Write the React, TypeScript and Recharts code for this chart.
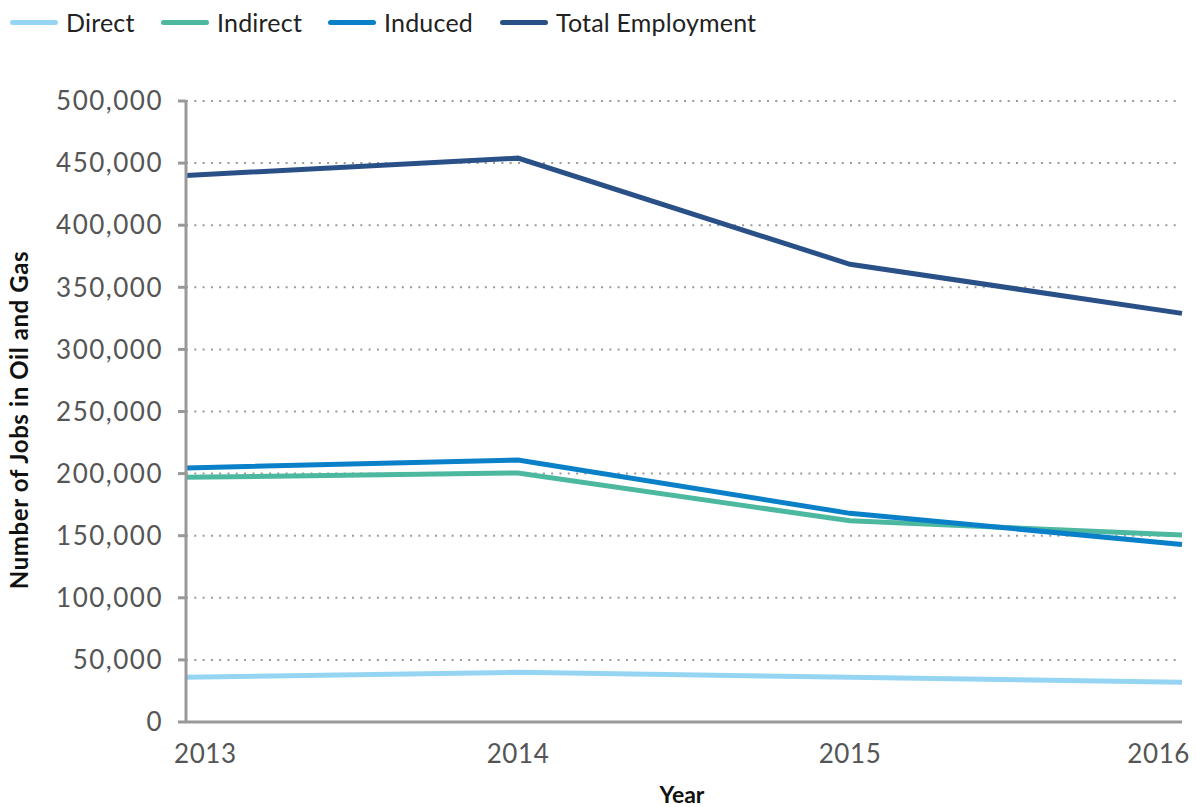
import React from 'react';
import { LineChart, Line, XAxis, YAxis, CartesianGrid, Legend, Label } from 'recharts';

const years = ['2013', '2014', '2015', '2016'];
const direct = [36000, 40000, 36000, 32000];
const indirect = [197000, 200500, 162000, 150500];
const induced = [204500, 211000, 168000, 143000];
const total = [440000, 454000, 368500, 329000];
const yTicks = [0, 50000, 100000, 150000, 200000, 250000, 300000, 350000, 400000, 450000, 500000];

const series = [
  { key: 'direct', name: 'Direct', color: '#95d5f3' },
  { key: 'indirect', name: 'Indirect', color: '#4db8a0' },
  { key: 'induced', name: 'Induced', color: '#0a80c8' },
  { key: 'total', name: 'Total Employment', color: '#2a5088' },
];

const data = years.map((y, i) => ({
  year: y,
  direct: direct[i],
  indirect: indirect[i],
  induced: induced[i],
  total: total[i],
}));

const FONT = 'Lato, "Open Sans", sans-serif';

const legendPositions = [10, 161, 328, 500];

const LegendContent = () => (
  <div style={{ position: 'relative', height: 44, width: 900 }}>
    {series.map((s, i) => (
      <div
        key={s.key}
        style={{
          position: 'absolute',
          left: legendPositions[i],
          top: 0,
          display: 'flex',
          alignItems: 'center',
          height: 44,
        }}
      >
        <div style={{ width: 48, height: 5, borderRadius: 3, background: s.color }} />
        <span style={{ marginLeft: 8, fontSize: 25, color: '#222', fontFamily: FONT, letterSpacing: 0.2 }}>{s.name}</span>
      </div>
    ))}
  </div>
);

const fmt = (v: number) => v.toLocaleString('en-US');

const XTick = (props: any) => {
  const { x, y, payload, index } = props;
  const last = years.length - 1;
  let anchor: 'start' | 'middle' | 'end' = 'middle';
  let xx = x;
  if (index === 0) {
    anchor = 'start';
    xx = x - 12;
  } else if (index === last) {
    anchor = 'end';
    xx = x + 8;
  }
  return (
    <text
      x={xx}
      y={y + 23}
      textAnchor={anchor}
      dominantBaseline="central"
      fill="#555"
      fontSize={26}
      fontFamily={FONT}
      letterSpacing={0.6}
    >
      {payload.value}
    </text>
  );
};

const YLabel = () => (
  <text
    x={18}
    y={420}
    transform="rotate(-90, 18, 420)"
    textAnchor="middle"
    dominantBaseline="central"
    fill="#111"
    fontSize={24}
    fontWeight={700}
    fontFamily={FONT}
    letterSpacing={0.6}
  >
    Number of Jobs in Oil and Gas
  </text>
);

const XLabel = () => (
  <text
    x={682}
    y={794}
    textAnchor="middle"
    dominantBaseline="central"
    fill="#111"
    fontSize={23}
    fontWeight={700}
    fontFamily={FONT}
  >
    Year
  </text>
);

export default function App() {
  return (
    <div style={{ position: 'absolute', left: 0, top: 0, width: 1197, height: 807, background: '#fff' }}>
      <LineChart
        width={1197}
        height={807}
        data={data}
        margin={{ top: 57, right: 15, bottom: 55, left: 0 }}
      >
        <CartesianGrid
          horizontal
          vertical={false}
          stroke="#9a9a9a"
          strokeWidth={2}
          strokeDasharray="2 6.3"
        />
        <XAxis
          dataKey="year"
          height={30}
          padding={{ left: 0, right: 0 }}
          axisLine={{ stroke: '#999', strokeWidth: 3 }}
          tickLine={false}
          tick={<XTick />}
          interval={0}
        >
          <Label content={<XLabel />} />
        </XAxis>
        <YAxis
          width={186}
          domain={[0, 500000]}
          ticks={yTicks}
          interval={0}
          tickFormatter={fmt}
          axisLine={{ stroke: '#999', strokeWidth: 3 }}
          tickLine={{ stroke: '#999', strokeWidth: 3 }}
          tickSize={8}
          tickMargin={15}
          tick={{ fill: '#555', fontSize: 26, fontFamily: FONT, letterSpacing: 1.5 }}
        >
          <Label content={<YLabel />} />
        </YAxis>
        <Legend
          verticalAlign="top"
          align="left"
          wrapperStyle={{ top: 0, left: 0 }}
          content={<LegendContent />}
        />
        {series.map((s) => (
          <Line
            key={s.key}
            type="linear"
            dataKey={s.key}
            name={s.name}
            stroke={s.color}
            strokeWidth={5}
            dot={false}
            activeDot={false}
            isAnimationActive={false}
          />
        ))}
      </LineChart>
    </div>
  );
}
